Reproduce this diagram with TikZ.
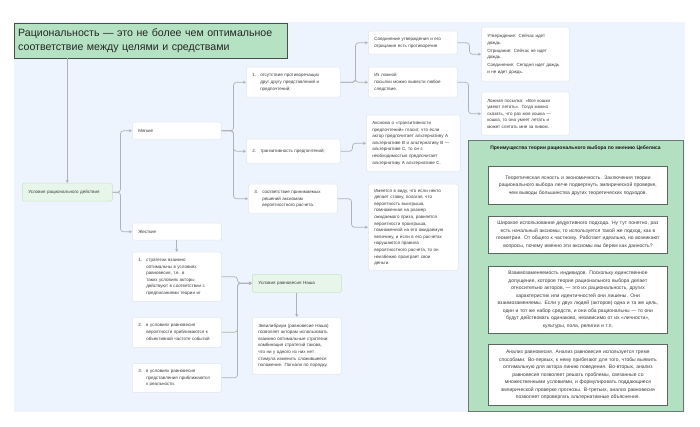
\documentclass[tikz,border=0pt]{standalone}
\usepackage{fontspec}
\setmainfont{Liberation Sans}
\usetikzlibrary{arrows.meta}
\definecolor{bgblue}{HTML}{EDF4FD}
\definecolor{titlegreen}{HTML}{B6E2C4}
\definecolor{lightgreen}{HTML}{E7F6E9}
\definecolor{lgborder}{HTML}{C6E4CA}
\definecolor{wborder}{HTML}{E2E7ED}
\definecolor{connc}{HTML}{AEB3B8}
\definecolor{txt}{HTML}{3A3A3A}
\definecolor{panelgreen}{HTML}{B4E0C2}
\definecolor{panelborder}{HTML}{6B7A70}
\newcommand{\smf}{\fontsize{4.5}{6.6}\selectfont}
\newcommand{\rpf}{\fontsize{5.0}{7.5}\selectfont}
\newcommand{\itm}[2]{\makebox[8pt][l]{#1}\begin{tabular}[t]{@{}l@{}}#2\end{tabular}}
\tikzset{
  wbox/.style={draw=wborder, fill=white, rounded corners=1.5pt, anchor=north west,
    inner xsep=6pt, inner ysep=2pt, align=left, font=\smf, text=txt, line width=0.5pt},
  gbox/.style={wbox, draw=lgborder, fill=lightgreen},
  conn/.style={draw=connc, line width=0.7pt, rounded corners=3pt,
    -{Stealth[length=3pt,width=3pt]}},
  rbox/.style={draw=panelborder!85!black, fill=white, line width=0.8pt, anchor=north west,
    align=center, font=\rpf, text=txt, inner sep=2pt, text width=172pt, minimum width=179pt}
}
\begin{document}
\begin{tikzpicture}[x=1pt,y=-1pt]
\useasboundingbox (0,0) rectangle (700,427);
\fill[white] (0,0) rectangle (700,427);
\fill[bgblue] (14,22) rectangle (685,412);

% title
\node[draw=black!70, fill=titlegreen, anchor=north west, minimum width=273pt, minimum height=35pt,
  text width=265pt, inner xsep=4pt, align=left, font=\fontsize{10.6}{13.5}\selectfont, text=black!85] (title) at (14,23)
  {Рациональность — это не более чем оптимальное\\соответствие между целями и средствами};

% main tree
\node[gbox, text width=78pt, minimum height=18pt] (cond) at (22,183) {Условия рационального действия};
\node[wbox, text width=77pt, minimum height=17pt] (soft) at (132,122) {Мягкие};
\node[wbox, text width=77pt, minimum height=17pt] (hard) at (132,223) {Жесткие};

\node[wbox, text width=82pt, minimum height=30pt] (s1) at (246,67)
  {\itm{1.}{отсутствие противоречащих\\друг другу представлений и\\предпочтений;}};
\node[wbox, text width=82pt, minimum height=24pt] (s2) at (246,139)
  {\itm{2.}{транзитивность предпочтений;}};
\node[wbox, text width=77pt, minimum height=29pt] (s3) at (248,184)
  {\itm{3.}{соответствие принимаемых\\решений аксиомам\\вероятностного расчета.}};

\node[wbox, text width=77pt, minimum height=23pt] (sa) at (368,31)
  {Соединение утверждения и его\\отрицания есть противоречие};
\node[wbox, text width=77pt, minimum height=30pt] (sb) at (368,67)
  {Из ложной\\посылки можно вывести любое\\следствие.};
\node[wbox, text width=82pt, minimum height=56pt] (ax) at (366,115)
  {Аксиома о «транзитивности\\предпочтений» гласит, что если\\актор предпочитает альтернативу А\\альтернативе В и альтернативу В —\\альтернативе С, то он с\\необходимостью предпочитает\\альтернативу А альтернативе С.};
\node[wbox, text width=78pt, minimum height=86pt] (pr) at (368,184)
  {Имеется в виду, что если некто\\делает ставку, полагая, что\\вероятность выигрыша,\\помноженная на размер\\ожидаемого приза, равняется\\вероятности проигрыша,\\помноженной на его ожидаемую\\величину, и если в его расчетах\\нарушаются правила\\вероятностного расчета, то он\\неизбежно проиграет свои\\деньги.};

\node[wbox, text width=76pt, minimum height=54pt] (sa2) at (481,27)
  {Утверждение: Сейчас идет\\дождь.\\[1.2pt]Отрицание: Сейчас не идет\\дождь.\\[1.2pt]Соединение: Сегодня идет дождь\\и не идет дождь.};
\node[wbox, text width=76pt, minimum height=43pt] (sb2) at (481,92)
  {Ложная посылка: «Все кошки\\умеют летать». Тогда можно\\сказать, что раз моя кошка —\\кошка, то она умеет летать и\\может слетать мне за пивом.};

\node[wbox, text width=77pt, minimum height=49pt] (h1) at (132,252)
  {\itm{1.}{стратегии взаимно\\оптимальны в условиях\\равновесия, т.е. в\\таких условиях акторы\\действуют в соответствии с\\предписаниями теории иг}};
\node[wbox, text width=77pt, minimum height=30pt] (h2) at (132,317)
  {\itm{2.}{в условиях равновесия\\вероятности приближаются к\\объективной частоте событий}};
\node[wbox, text width=77pt, minimum height=29pt] (h3) at (132,363)
  {\itm{3.}{в условиях равновесия\\представления приближаются\\к реальности.}};

\node[gbox, text width=77pt, minimum height=18pt] (nash) at (252,274) {Условия равновесия Наша};
\node[wbox, text width=77pt, minimum height=57pt] (eq) at (252,317)
  {Эквилибриум (равновесие Наша)\\позволяет акторам использовать\\взаимно оптимальные стратегии:\\комбинация стратегий такова,\\что ни у одного из них нет\\стимула изменить сложившееся\\положение. Погнали по порядку.};

% connectors
\draw[conn] (title.south west -| cond.north) -- (cond.north);
\draw[conn] (cond.east) -- ++(8,0) |- (soft.west);
\draw[conn] (cond.east) -- ++(8,0) |- (hard.west);
\draw[conn] (soft.east) -- ++(12,0) |- (s1.west);
\draw[conn] (soft.east) -- ++(12,0) |- (s2.west);
\draw[conn] (soft.east) -- ++(12,0) |- (s3.west);
\draw[conn] (s1.east) -- ++(15,0) |- (sa.west);
\draw[conn] (s1.east) -- ++(15,0) |- (sb.west);
\draw[conn] (sa.east) -- ++(12,0) |- (sa2.west);
\draw[conn] (sb.east) -- ++(11,0) |- (sb2.west);
\draw[conn] (s2.east) -- ++(12,0) |- (ax.west);
\draw[conn] (s3.east) -- ++(14,0) |- (pr.west);
\draw[conn] (hard.south) -- (h1.north);
\draw[conn] (h1.east) -- ++(16,0) |- (nash.west);
\draw[conn] (h2.east) -- ++(16,0) |- (nash.west);
\draw[conn] (h3.east) -- ++(16,0) |- (nash.west);
\draw[conn] (nash.south) -- (eq.north);

% right panel
\node[draw=panelborder, fill=panelgreen, line width=0.8pt, anchor=north west,
  minimum width=215pt, minimum height=271pt] (panel) at (468,140) {};
\node[font=\fontsize{5.0}{6}\selectfont\bfseries, text=black!90, inner sep=1pt] (ptitle) at (575.5,148)
  {Преимущества теории рационального выбора по мнению Цебелиса};
\node[rbox, minimum height=38pt] (ra) at (488,166)
  {Теоретическая ясность и экономичность. Заключения теории\\рационального выбора легче подвергнуть эмпирической проверке,\\чем выводы большинства других теоретических подходов.};
\node[rbox, minimum height=37pt] (rb) at (488,216)
  {Широкое использование дедуктивного подхода. Ну тут понятно, раз\\есть начальный аксиомы, то используется такой же подход, как в\\геометрии. От общего к частному. Работает идеально, но возникают\\вопросы, почему именно эти аксиомы мы берем как данность?};
\node[rbox, minimum height=67pt] (rc) at (488,266)
  {Взаимозаменяемость индивидов. Поскольку единственное\\допущение, которое теория рационального выбора делает\\относительно акторов, — это их рациональность, других\\характеристик или идентичностей они лишены. Они\\взаимозаменяемы. Если у двух людей (акторов) одна и та же цель,\\один и тот же набор средств, и они оба рациональны — то они\\будут действовать одинаково, независимо от их «личности»,\\культуры, пола, религии и т.п.};
\node[rbox, minimum height=61pt] (rd) at (488,344)
  {Анализ равновесия. Анализ равновесия используется тремя\\способами. Во-первых, к нему прибегают для того, чтобы выявить\\оптимальную для актора линию поведения. Во-вторых, анализ\\равновесия позволяет решать проблемы, связанные со\\множественными условиями, и формулировать поддающиеся\\эмпирической проверке прогнозы. В-третьих, анализ равновесия\\позволяет опровергать альтернативные объяснения.};
\end{tikzpicture}
\end{document}
